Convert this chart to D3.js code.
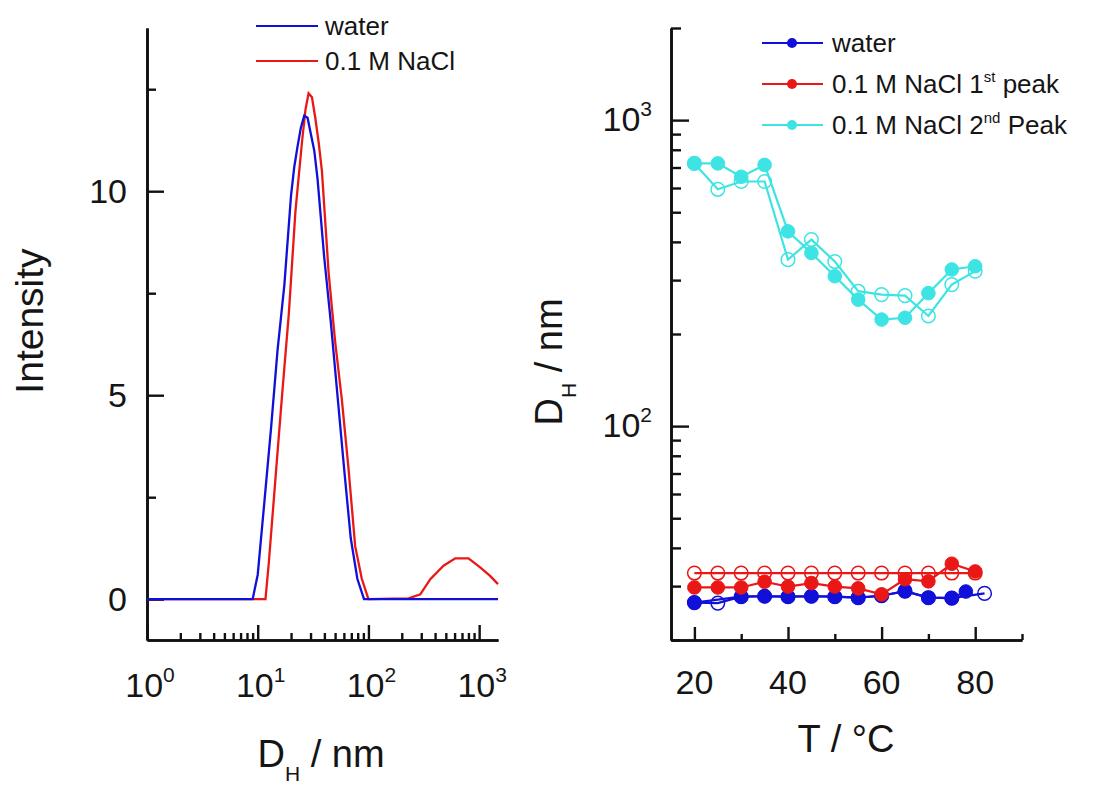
<!DOCTYPE html>
<html><head><meta charset="utf-8">
<script src="https://cdn.jsdelivr.net/npm/d3@7"></script>
<style>
body{margin:0;background:#fff}
svg{display:block}
text{font-family:"Liberation Sans",Arial,Helvetica,sans-serif;fill:#151515}
</style>
</head><body>
<svg id="chart" width="1093" height="785"></svg>
<script>
// ---------- Left panel data: size distribution (D_H in nm, intensity) ----------
const waterSize      = [1, 9.0, 10.0, 11.5, 13.2, 15.1, 17.4, 20.0, 21.4, 22.9, 24.5, 26.3, 28.2, 30.2, 32.4, 34.7, 39.8, 45.7, 52.5, 60.3, 69.2, 79.4, 91.2, 1480];
const waterIntensity = [0, 0,   0.6,  2.4,  4.2,  6.1,  7.7,  9.9,  10.6, 11.1, 11.55,11.85,11.8, 11.4, 11.0, 10.3, 8.4,  6.8,  5.0,  3.2,  1.5,  0.5,  0,    0];
const naclSize       = [1, 11.75, 12.6, 14.5, 16.6, 19.1, 21.9, 25.1, 27.0, 28.8, 30.9, 33.1, 35.5, 38.0, 43.7, 50.1, 57.5, 66.1, 75.9, 87.1, 100, 231, 294, 362, 477, 608, 801, 1021, 1256, 1480];
const naclIntensity  = [0, 0,     0.9,  3.0,  5.0,  7.0,  9.5,  11.2, 12.0, 12.4, 12.3, 11.8, 11.2, 10.5, 8.0,  6.3,  4.9,  3.2,  1.3,  0.5,  0,   0.02,0.12,0.49,0.82,1.0, 1.0, 0.78, 0.57, 0.37];

// ---------- Right panel data: D_H (nm) vs temperature ----------
const temps            = [20, 25, 30, 35, 40, 45, 50, 55, 60, 65, 70, 75, 80];
const waterTempFilled  = [20, 30, 35, 40, 45, 50, 55, 60, 65, 70, 75, 78];
const waterDhFilled    = [26.5, 27.7, 27.8, 27.7, 27.8, 27.7, 27.5, 27.9, 28.9, 27.5, 27.4, 28.8];
const waterTempOpen    = [20, 25, 30, 35, 40, 45, 50, 55, 60, 65, 70, 75, 82];
const waterDhOpen      = [26.5, 26.4, 27.7, 27.8, 27.7, 27.8, 27.7, 27.5, 27.9, 28.9, 27.5, 27.4, 28.4];
const nacl1DhFilled    = [29.7, 29.7, 29.7, 31.0, 29.9, 30.7, 29.9, 29.5, 28.2, 31.6, 31.1, 35.5, 33.5];
const nacl1DhOpen      = [33.1, 33.1, 33.1, 33.1, 33.1, 33.1, 33.1, 33.1, 33.1, 33.1, 33.1, 33.1, 33.1];
const nacl2DhFilled    = [722, 722, 653, 714, 433, 368, 309, 259, 223, 226, 272, 325, 333];
const nacl2DhOpen      = [722, 594, 630, 630, 350, 407, 345, 276, 269, 267, 229, 290, 321];

// ---------- Ticks / labels ----------
const leftXMajor = [1, 10, 100, 1000];
const leftXExp   = ["0", "1", "2", "3"];
const leftXMinor = [2,3,4,5,6,7,8,9,20,30,40,50,60,70,80,90,200,300,400,500,600,700,800,900];
const leftYMajor = [0, 5, 10];
const leftYMinor = [2.5, 7.5, 12.5];
const rightXMajor = [20, 40, 60, 80];
const rightXMinor = [30, 50, 70, 90];
const rightYMajor = [100, 1000];
const rightYExp   = ["2", "3"];
const rightYMinor = [20,30,40,50,60,70,80,90,200,300,400,500,600,700,800,900,2000];

const leftLegend  = ["water", "0.1 M NaCl"];
const BLUE = "#1010d8", RED = "#ea1717", CYAN = "#3ee4e4", AXIS = "#111";

const svg = d3.select("#chart");

function styleAxis(g){
  g.select(".domain").attr("stroke", AXIS).attr("stroke-width", 2.6);
  g.selectAll(".tick line").attr("stroke", AXIS).attr("stroke-width", 2.4);
  g.selectAll(".tick text").remove();
}
function powLabel(g, x, y, exp, anchor){
  const t = g.append("text").attr("x", x).attr("y", y).attr("text-anchor", anchor).style("font-size", "34px");
  t.append("tspan").text("10");
  t.append("tspan").attr("dy", -15).style("font-size", "21px").text(exp);
}

// ================= LEFT PANEL =================
const xL = d3.scaleLog().domain([1, 1480]).range([147, 498]);
const yL = d3.scaleLinear().domain([-1, 14]).range([640, 28]);
const gL = svg.append("g");

gL.append("g").attr("transform", "translate(0,640)")
  .call(d3.axisBottom(xL).tickValues(leftXMinor).tickSize(-7).tickSizeOuter(0)).call(styleAxis);
gL.append("g").attr("transform", "translate(0,640)")
  .call(d3.axisBottom(xL).tickValues(leftXMajor).tickSize(-15).tickSizeOuter(0)).call(styleAxis);
gL.append("g").attr("transform", "translate(147,0)")
  .call(d3.axisLeft(yL).tickValues(leftYMinor).tickSize(-9).tickSizeOuter(0)).call(styleAxis);
gL.append("g").attr("transform", "translate(147,0)")
  .call(d3.axisLeft(yL).tickValues(leftYMajor).tickSize(-17).tickSizeOuter(0)).call(styleAxis);

leftXMajor.forEach((v, i) => powLabel(gL, xL(v) + 3, 697, leftXExp[i], "middle"));
leftYMajor.forEach(v => gL.append("text").attr("x", 127).attr("y", yL(v) + 12)
  .attr("text-anchor", "end").style("font-size", "34px").text(v));

gL.append("text").attr("transform", "translate(43,321) rotate(-90)").attr("text-anchor", "middle")
  .style("font-size", "39px").text("Intensity");
{
  const t = gL.append("text").attr("x", 321).attr("y", 767).attr("text-anchor", "middle").style("font-size", "38px");
  t.append("tspan").text("D");
  t.append("tspan").attr("dy", 14).style("font-size", "21px").text("H");
  t.append("tspan").attr("dy", -14).text(" / nm");
}

const lineL = d3.line().x(d => xL(d[0])).y(d => yL(d[1]));
gL.append("path").datum(d3.zip(naclSize, naclIntensity)).attr("d", lineL)
  .attr("fill", "none").attr("stroke", RED).attr("stroke-width", 2.3);
gL.append("path").datum(d3.zip(waterSize, waterIntensity)).attr("d", lineL)
  .attr("fill", "none").attr("stroke", BLUE).attr("stroke-width", 2.3);

// left legend
[BLUE, RED].forEach((c, i) => {
  const yy = 26 + i * 35;
  gL.append("line").attr("x1", 256).attr("x2", 318).attr("y1", yy).attr("y2", yy).attr("stroke", c).attr("stroke-width", 2.2);
  gL.append("text").attr("x", 325).attr("y", yy + 9).style("font-size", "26px").text(leftLegend[i]);
});

// ================= RIGHT PANEL =================
const xR = d3.scaleLinear().domain([15, 90]).range([671, 1022]);
const yR = d3.scaleLog().domain([20, 2000]).range([640, 28]);
const gR = svg.append("g");

gR.append("g").attr("transform", "translate(0,640)")
  .call(d3.axisBottom(xR).tickValues(rightXMinor).tickSize(-6).tickSizeOuter(0)).call(styleAxis);
gR.append("g").attr("transform", "translate(0,640)")
  .call(d3.axisBottom(xR).tickValues(rightXMajor).tickSize(-13).tickSizeOuter(0)).call(styleAxis);
gR.append("g").attr("transform", "translate(671,0)")
  .call(d3.axisLeft(yR).tickValues(rightYMinor).tickSize(-10).tickSizeOuter(0)).call(styleAxis);
gR.append("g").attr("transform", "translate(671,0)")
  .call(d3.axisLeft(yR).tickValues(rightYMajor).tickSize(-18).tickSizeOuter(0)).call(styleAxis);

rightXMajor.forEach(v => gR.append("text").attr("x", xR(v)).attr("y", 694)
  .attr("text-anchor", "middle").style("font-size", "34px").text(v));
rightYMajor.forEach((v, i) => powLabel(gR, 652, yR(v) + 11, rightYExp[i], "end"));

gR.append("text").attr("x", 846).attr("y", 752).attr("text-anchor", "middle")
  .style("font-size", "38px").text("T / °C");
{
  const t = gR.append("text").attr("transform", "translate(562,362) rotate(-90)").attr("text-anchor", "middle").style("font-size", "38px");
  t.append("tspan").text("D");
  t.append("tspan").attr("dy", 14).style("font-size", "21px").text("H");
  t.append("tspan").attr("dy", -14).text(" / nm");
}

const lineR = d3.line().x(d => xR(d[0])).y(d => yR(d[1]));
const R = 6.8;
function series(tArr, vArr, color, filled){
  const data = d3.zip(tArr, vArr);
  gR.append("path").datum(data).attr("d", lineR).attr("fill", "none").attr("stroke", color).attr("stroke-width", 2.2);
  gR.append("g").selectAll("circle").data(data).join("circle")
    .attr("cx", d => xR(d[0])).attr("cy", d => yR(d[1])).attr("r", R)
    .attr("fill", filled ? color : "none").attr("stroke", color).attr("stroke-width", filled ? 1 : 1.5);
}
// open (cooling) first, filled on top
series(waterTempOpen, waterDhOpen, BLUE, false);
series(temps, nacl1DhOpen, RED, false);
series(temps, nacl2DhOpen, CYAN, false);
series(waterTempFilled, waterDhFilled, BLUE, true);
series(temps, nacl1DhFilled, RED, true);
series(temps, nacl2DhFilled, CYAN, true);

// right legend
const legR = [
  {c: BLUE, parts: [["water"]]},
  {c: RED,  parts: [["0.1 M NaCl 1"], ["st", "sup"], [" peak"]]},
  {c: CYAN, parts: [["0.1 M NaCl 2"], ["nd", "sup"], [" Peak"]]}
];
legR.forEach((L, i) => {
  const yy = 43 + i * 41;
  gR.append("line").attr("x1", 762).attr("x2", 823).attr("y1", yy).attr("y2", yy).attr("stroke", L.c).attr("stroke-width", 2.2);
  gR.append("circle").attr("cx", 792).attr("cy", yy).attr("r", 5).attr("fill", L.c);
  const t = gR.append("text").attr("x", 832).attr("y", yy + 9).style("font-size", "26px");
  let raised = false;
  L.parts.forEach(p => {
    const s = t.append("tspan").text(p[0]);
    if (p[1] === "sup") { s.attr("dy", -11).style("font-size", "15px"); raised = true; }
    else if (raised) { s.attr("dy", 11); raised = false; }
  });
});
</script>
</body></html>
